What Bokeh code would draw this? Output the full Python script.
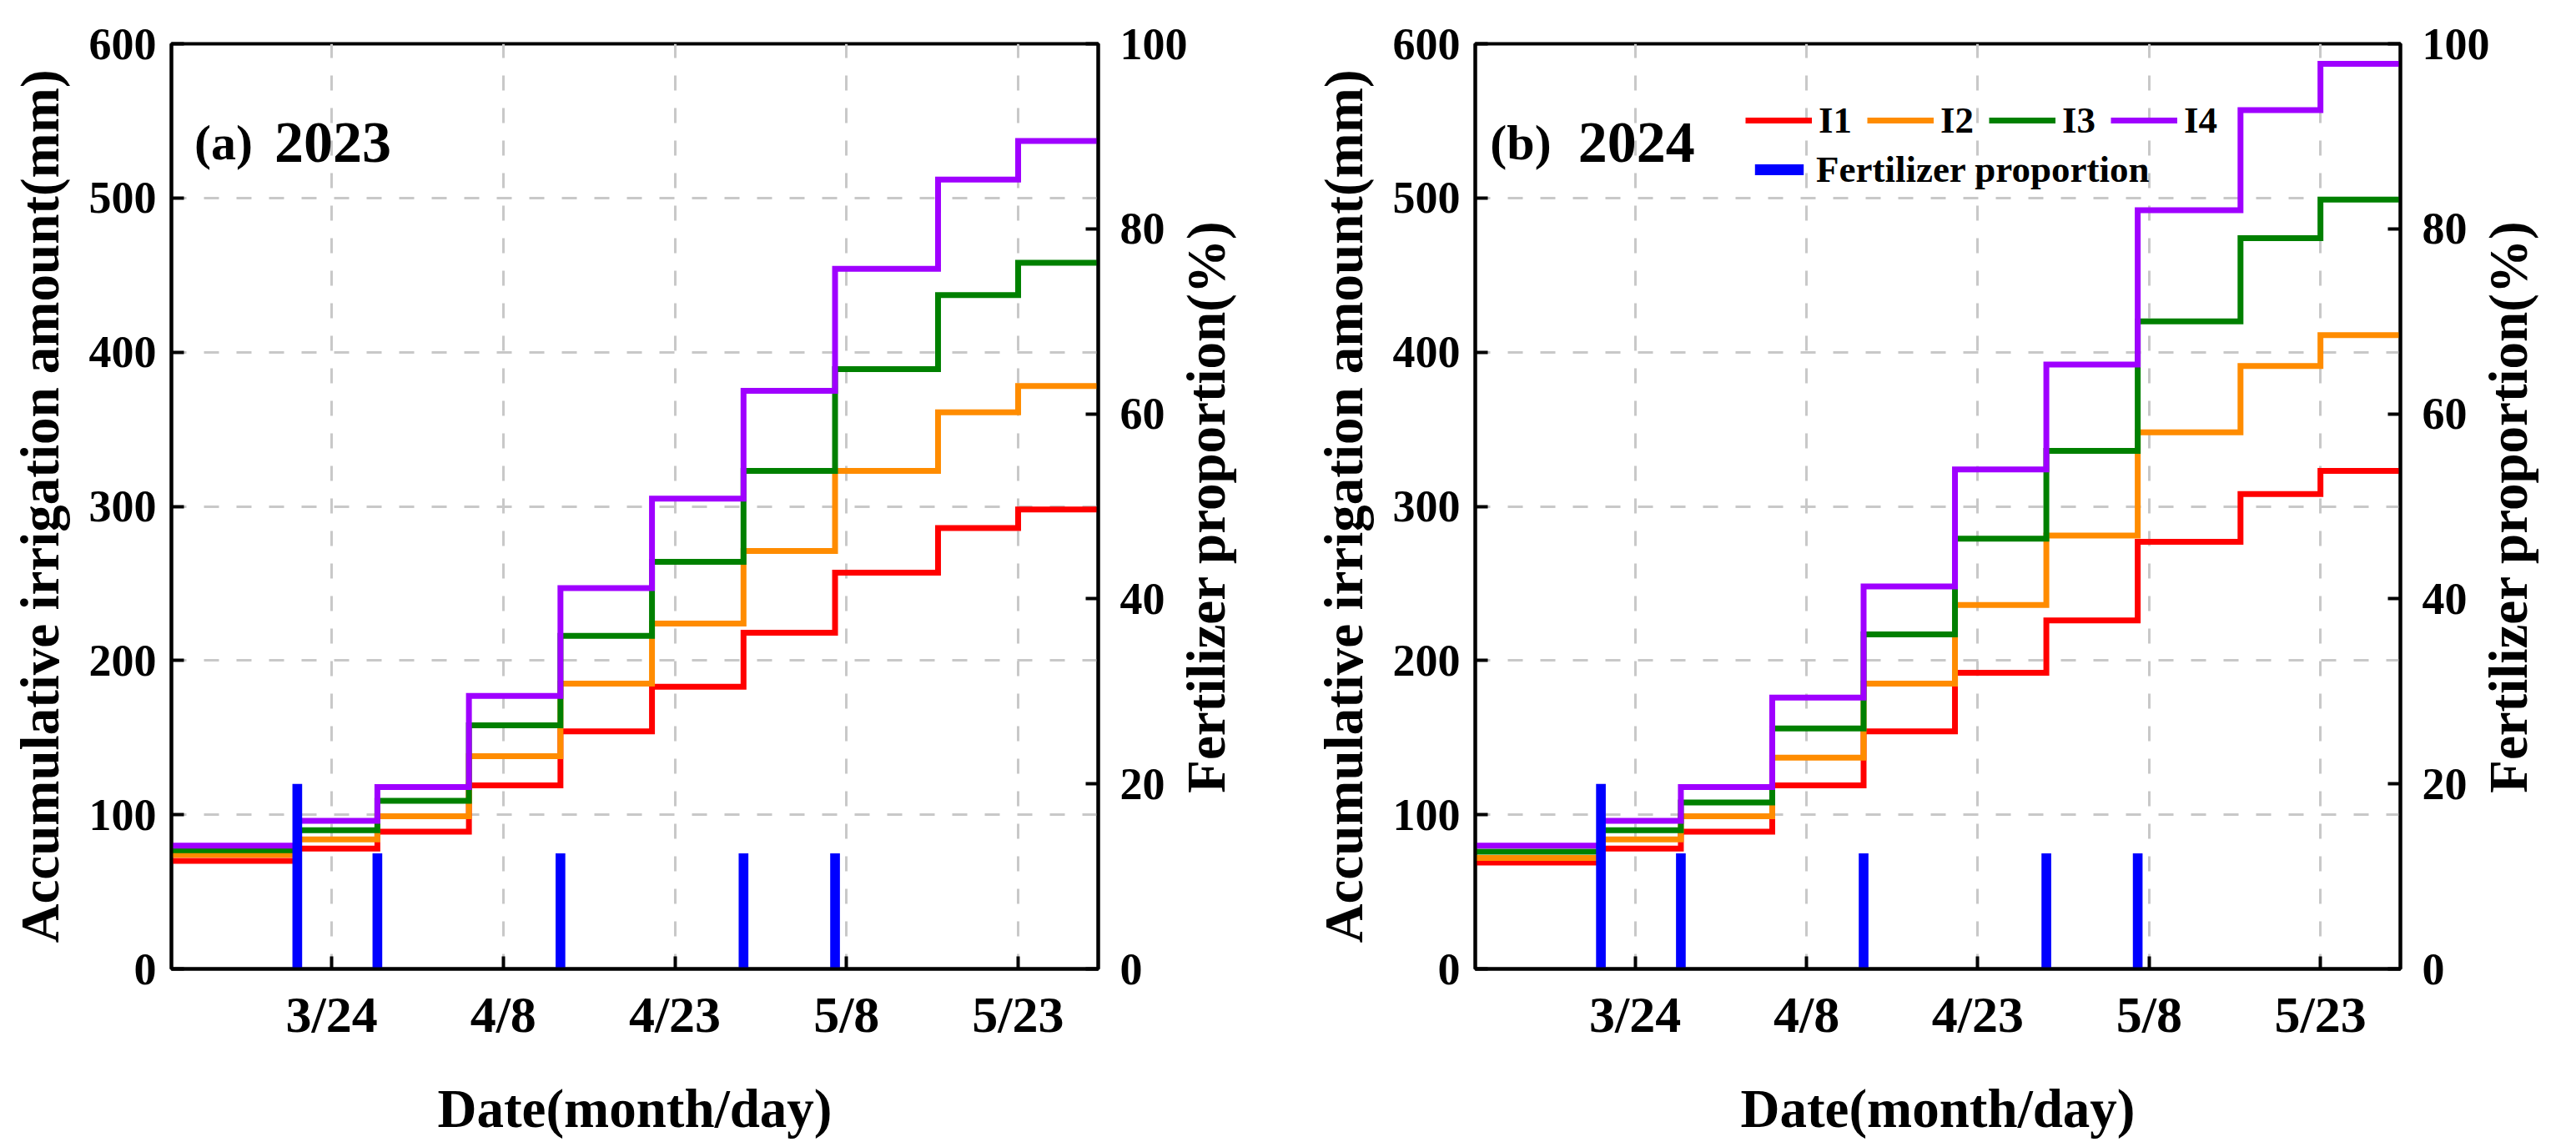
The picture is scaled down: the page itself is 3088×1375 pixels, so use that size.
import math
import pandas as pd
from bokeh.plotting import figure
from bokeh.layouts import row
from bokeh.models import (Range1d, LinearAxis, FixedTicker, Legend, LegendItem, Label)
from bokeh.embed import file_html
from bokeh.resources import INLINE

# ---------------- data ----------------
irr_dates = ["03-10", "03-21", "03-28", "04-05", "04-13", "04-21", "04-29", "05-07", "05-16", "05-23"]
end_date = "05-30"
series_names = ["I1", "I2", "I3", "I4"]
series_colors = ["#FF0000", "#FF8C00", "#008000", "#9F00FF"]

a_I1 = [70, 78, 89, 119, 154, 183, 218, 257, 286, 298]
a_I2 = [74, 84, 99, 138, 185, 224, 271, 323, 361, 378]
a_I3 = [77, 90, 109, 158, 216, 264, 323, 389, 437, 458]
a_I4 = [80, 96, 118, 177, 247, 305, 375, 454, 512, 537]

b_I1 = [69, 78, 89, 119, 154, 192, 226, 277, 308, 323]
b_I2 = [72, 84, 99, 137, 185, 236, 281, 348, 391, 411]
b_I3 = [76, 90, 108, 156, 217, 279, 336, 420, 474, 499]
b_I4 = [80, 96, 118, 176, 248, 324, 392, 492, 557, 587]

fert_dates = ["03-21", "03-28", "04-13", "04-29", "05-07"]
fert_pct = [20, 12.5, 12.5, 12.5, 12.5]

tick_dates = ["03-24", "04-08", "04-23", "05-08", "05-23"]
tick_labels = ["3/24", "4/8", "4/23", "5/8", "5/23"]

y_ticks = [0, 100, 200, 300, 400, 500, 600]
pct_ticks = [0, 20, 40, 60, 80, 100]

right_title = "Fertilizer proportion(%)"

FONT = "Liberation Serif"
DAY_MS = 86400000
FRAME_H = 1109
RTITLE_START = 19  # where the upward-reading right title begins (in % units)


def ms(year, md):
    return int((pd.Timestamp(f"{year}-{md}") - pd.Timestamp("1970-01-01")) // pd.Timedelta("1ms"))


def style_axis(ax):
    ax.axis_line_width = 4
    ax.axis_line_color = "black"
    ax.major_tick_line_width = 4
    ax.major_tick_in = 15
    ax.major_tick_out = 0
    ax.minor_tick_in = 0
    ax.minor_tick_out = 0
    ax.minor_tick_line_alpha = 0
    ax.major_label_text_font = FONT
    ax.major_label_text_font_style = "bold"
    ax.major_label_text_color = "black"
    ax.axis_label_text_font = FONT
    ax.axis_label_text_font_style = "bold"
    ax.axis_label_text_color = "black"
    ax.axis_label_text_font_size = "65px"


def make_panel(year, tag, vals, border_left, border_right, frame_w, show_legend, tag_x):
    start = ms(year, irr_dates[0])
    end = ms(year, end_date)
    p = figure(x_axis_type="datetime",
               x_range=Range1d(start, end), y_range=Range1d(0, 600),
               frame_width=frame_w, frame_height=FRAME_H,
               min_border_left=border_left, min_border_right=border_right,
               min_border_top=52, min_border_bottom=198,
               output_backend="svg", toolbar_location=None,
               background_fill_color="white", border_fill_color="white")
    p.outline_line_color = "black"
    p.outline_line_width = 4
    p.outline_line_alpha = 1

    p.extra_y_ranges = {"pct": Range1d(0, 100)}
    raxis = LinearAxis(y_range_name="pct", ticker=FixedTicker(ticks=pct_ticks))
    p.add_layout(raxis, "right")

    # title for the right axis, reading upwards (drawn as a rotated label of a bare axis)
    taxis = LinearAxis(y_range_name="pct", ticker=FixedTicker(ticks=[RTITLE_START]),
                       major_label_overrides={RTITLE_START: right_title},
                       major_label_orientation=math.pi / 2)
    p.add_layout(taxis, "right")

    tks = [ms(year, d) for d in tick_dates]
    p.xaxis.ticker = FixedTicker(ticks=tks)
    p.xaxis.major_label_overrides = {t: l for t, l in zip(tks, tick_labels)}
    p.xaxis.axis_label = "Date(month/day)"
    p.xgrid.ticker = FixedTicker(ticks=tks)

    laxis = p.yaxis[0]
    laxis.ticker = FixedTicker(ticks=y_ticks)
    laxis.axis_label = "Accumulative irrigation amount(mm)"
    p.ygrid.ticker = FixedTicker(ticks=y_ticks[1:-1])

    for ax in [p.xaxis[0], laxis, raxis, taxis]:
        style_axis(ax)
    p.xaxis[0].major_label_text_font_size = "62px"
    p.xaxis[0].major_label_standoff = 20
    p.xaxis[0].axis_label_standoff = 40
    laxis.major_label_text_font_size = "54px"
    laxis.major_label_standoff = 18
    laxis.axis_label_standoff = 20
    raxis.major_label_text_font_size = "54px"
    raxis.major_label_standoff = 26

    taxis.axis_line_alpha = 0
    taxis.major_tick_line_alpha = 0
    taxis.major_tick_in = 0
    taxis.major_tick_out = 0
    taxis.major_label_text_font_size = "65px"
    taxis.major_label_standoff = 20

    for g in [p.xgrid[0], p.ygrid[0]]:
        g.grid_line_color = "#c8c8c8"
        g.grid_line_width = 3
        g.grid_line_dash = "18 21"

    xs = [ms(year, d) for d in irr_dates] + [end]
    renderers = []
    for name, col, v in zip(series_names, series_colors, vals):
        r = p.step(xs, list(v) + [v[-1]], mode="after", line_color=col,
                   line_width=7, line_join="miter")
        renderers.append(r)

    fx = [ms(year, d) for d in fert_dates]
    rb = p.vbar(x=fx, top=fert_pct, bottom=0, width=0.85 * DAY_MS,
                fill_color="#0000FF", line_color=None, y_range_name="pct")

    p.add_layout(Label(x=start + tag_x * DAY_MS, y=536, text=f"({tag})",
                       text_font=FONT, text_font_style="bold", text_font_size="60px",
                       text_baseline="alphabetic", text_color="black"))
    p.add_layout(Label(x=start + 9.0 * DAY_MS, y=536, text=year,
                       text_font=FONT, text_font_style="bold", text_font_size="70px",
                       text_baseline="alphabetic", text_color="black"))

    if show_legend:
        common = dict(padding=0, margin=0, border_line_alpha=0, background_fill_alpha=0,
                      label_text_font=FONT, label_text_font_style="bold",
                      label_text_color="black",
                      label_text_font_size="45px", label_standoff=8)
        leg1 = Legend(items=[LegendItem(label=n, renderers=[r]) for n, r in zip(series_names, renderers)],
                      location=(324, 991), orientation="horizontal",
                      glyph_width=80, glyph_height=40, label_height=40, spacing=18, **common)
        leg2 = Legend(items=[LegendItem(label="Fertilizer proportion", renderers=[rb])],
                      location=(328, 932), orientation="horizontal",
                      glyph_width=73, glyph_height=16, label_height=40, **common)
        p.add_layout(leg1)
        p.add_layout(leg2)
    return p


pa = make_panel("2023", "a", [a_I1, a_I2, a_I3, a_I4], 205, 224, 1111, False, 2.0)
pb = make_panel("2024", "b", [b_I1, b_I2, b_I3, b_I4], 228, 195, 1109, True, 1.3)

layout = row(pa, pb)
open("out.html", "w").write(file_html(layout, INLINE))
